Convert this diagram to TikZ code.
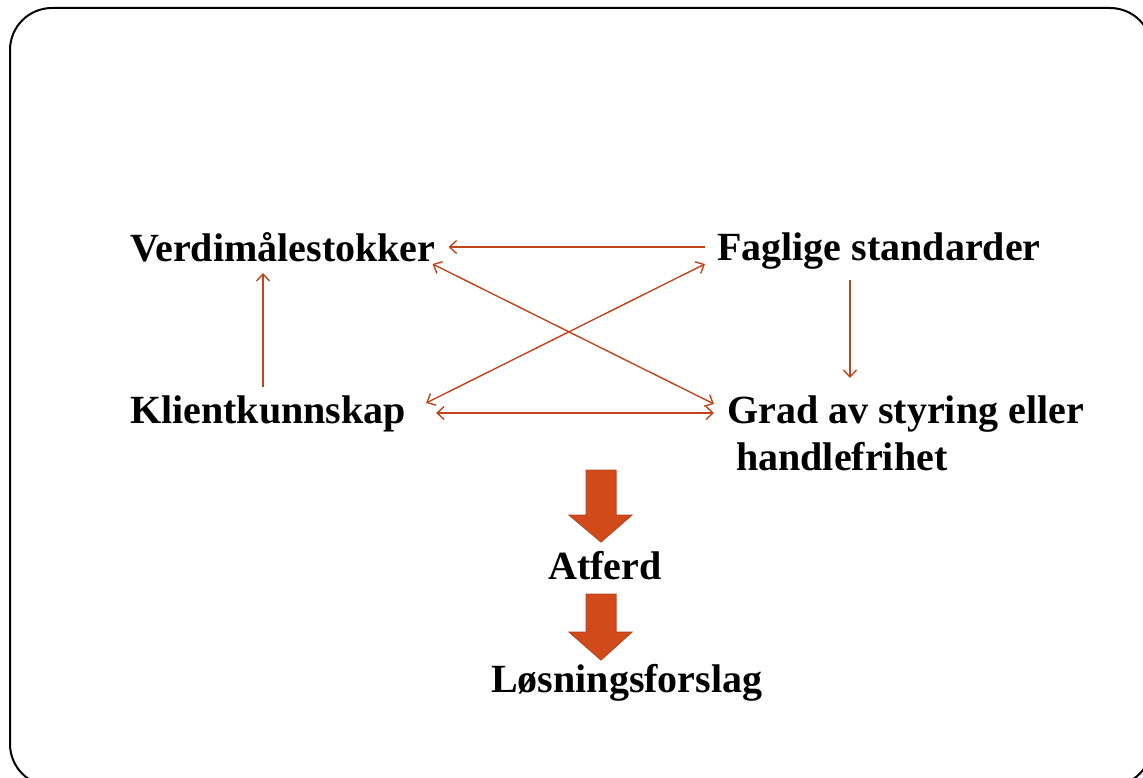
\documentclass[tikz,border=0pt]{standalone}
\usepackage{fontspec}
\setmainfont{Liberation Serif}
\usetikzlibrary{arrows.meta,calc}
\definecolor{linecol}{HTML}{C0441C}
\definecolor{blockfill}{HTML}{D24A1A}
\definecolor{blockline}{HTML}{B5461F}
\begin{document}
\begin{tikzpicture}[x=1pt,y=-1pt,
  lbl/.style={anchor=base west,inner sep=0pt,font=\fontsize{40}{47}\selectfont\bfseries},
  conn/.style={draw=linecol,line width=1.4pt},
  tipR/.style={-{Straight Barb[length=7pt,width=13pt]}},
  tipB/.style={{Straight Barb[length=7pt,width=13pt]}-{Straight Barb[length=7pt,width=13pt]}},
  block/.style={fill=blockfill,draw=blockline,line width=1pt,line join=miter}]
\useasboundingbox (0,0) rectangle (1143,778);
\draw[line width=2pt,rounded corners=42pt] (10,8) rectangle (1152,786);

\node[lbl] (V) at (130,261) {Verdimålestokker};
\node[lbl] (F) at (717,260) {Faglige standarder};
\node[lbl] (K) at (130,423) {Klientkunnskap};
\node[lbl] (G) at (727,423) {Grad av styring eller};
\node[lbl] (H) at (736,470) {handlefrihet};
\node[lbl] (A) at (548,579) {Atferd};
\node[lbl] (L) at (491,692) {Løsningsforslag};

% connectors
\draw[conn,tipR] ($(F.base west)+(-12,-13)$) -- ($(V.base east)+(13,-14)$);
\draw[conn,tipB] ($(F.base west)+(-12,4)$) -- ($(K.base east)+(20,-20)$);
\draw[conn,tipB] ($(V.base east)+(-3,3)$) -- ($(G.base west)+(-13,-19)$);
\draw[conn,tipB] ($(K.base east)+(30,-10)$) -- ($(G.base west)+(-13,-10)$);
\draw[conn,tipR] ($(K.base west)+(133,-36)$) -- ($(V.base west)+(133,12)$);
\draw[conn,tipR] ($(F.base west)+(133,20)$) -- ($(G.base west)+(123,-45)$);

% block arrows
\path[block] (586,470) -- (616,470) -- (616,515) -- (632,515) -- (601,542) -- (569,515) -- (586,515) -- cycle;
\path[block] (586,594) -- (616,594) -- (616,632) -- (632,632) -- (601,660) -- (569,632) -- (586,632) -- cycle;
\end{tikzpicture}
\end{document}
